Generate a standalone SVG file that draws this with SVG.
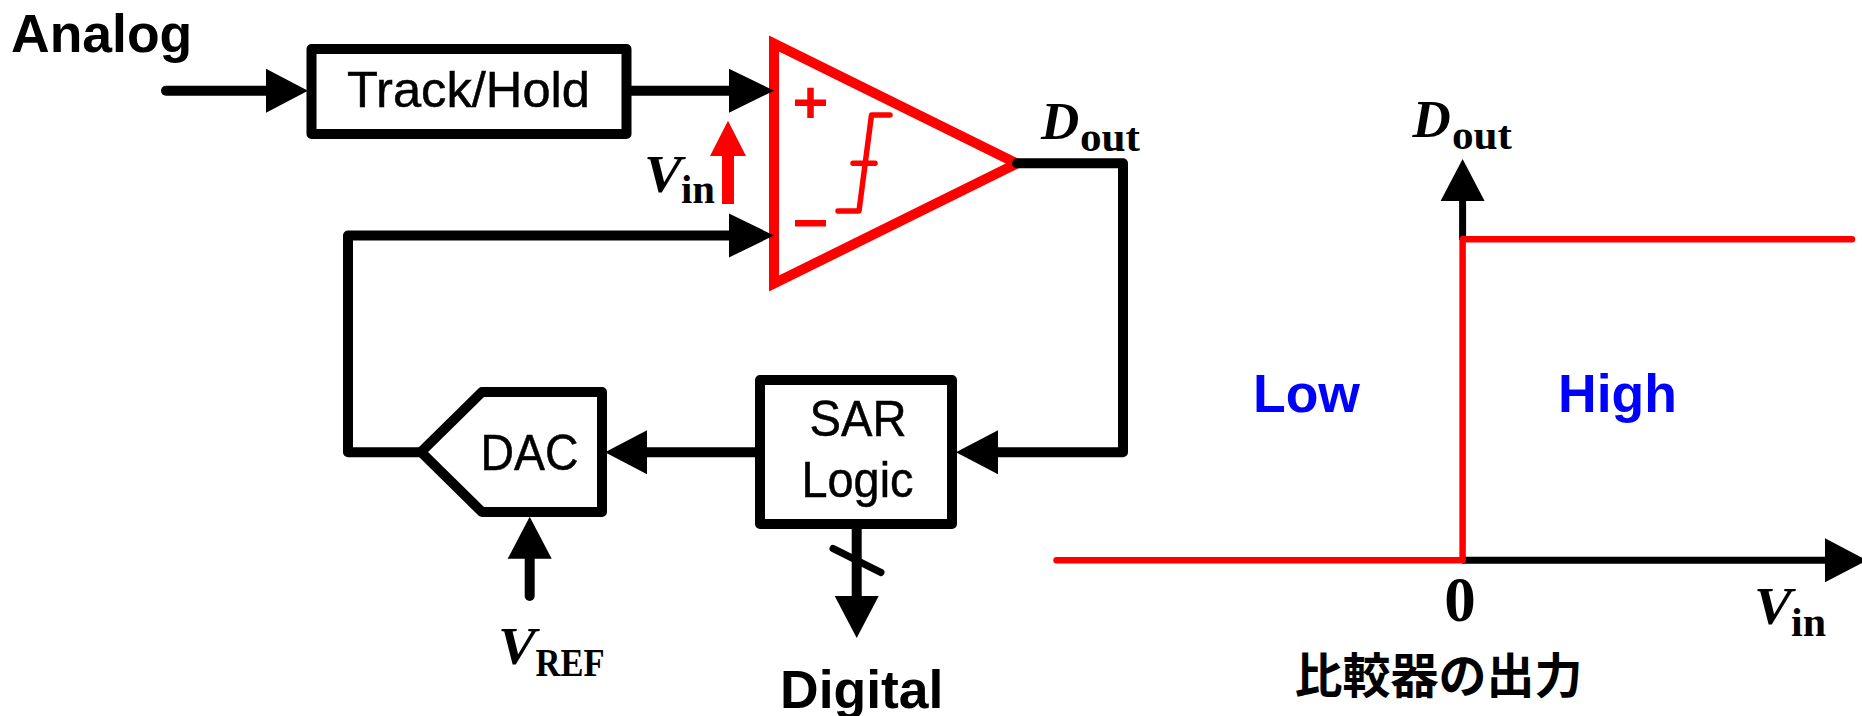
<svg xmlns="http://www.w3.org/2000/svg" width="1862" height="716" viewBox="0 0 1862 716">
<style>
.box{fill:#fff;stroke:#000;stroke-width:10;stroke-linejoin:round}
.wire{fill:none;stroke:#000;stroke-width:10;stroke-linejoin:round;stroke-linecap:round}
.red{fill:none;stroke:#f00;stroke-linejoin:round;stroke-linecap:round}
.sans{font-family:"Liberation Sans",Arial,sans-serif;font-size:50px;fill:#000;stroke:#000;stroke-width:.5}
.bold{font-family:"Liberation Sans",Arial,sans-serif;font-size:53.5px;font-weight:700;fill:#000}
.blue{fill:#00f}
.mi{font-family:"Liberation Serif","Times New Roman",serif;font-size:53px;font-weight:700;font-style:italic;fill:#000}
.sub{font-family:"Liberation Serif","Times New Roman",serif;font-size:41px;font-weight:700;fill:#000}
.m{text-anchor:middle}
</style>
<defs>
<marker id="head" markerUnits="userSpaceOnUse" viewBox="0 0 42 44" refX="0" refY="22" markerWidth="42" markerHeight="44" orient="auto" overflow="visible"><path d="M0 0L42 22L0 44Z" fill="#000"/></marker>
<marker id="headLong" markerUnits="userSpaceOnUse" viewBox="0 0 45 44" refX="0" refY="22" markerWidth="45" markerHeight="44" orient="auto" overflow="visible"><path d="M0 0L45 22L0 44Z" fill="#000"/></marker>
</defs>
<g id="analog-label"><text class="bold" x="11" y="52">Analog</text></g>
<g id="track-hold"><rect class="box" x="311.5" y="49" width="315" height="85"/><text class="sans m" x="468.5" y="107" textLength="243" lengthAdjust="spacingAndGlyphs">Track/Hold</text></g>
<g id="comparator">
<polygon points="774,43.5 774,283.5 1017,163.5" fill="#fff" stroke="#f00" stroke-width="10" stroke-miterlimit="4"/>
<path d="M795 102.7H826M810.5 87.7V118M795 223.3H826" fill="none" stroke="#f00" stroke-width="6.5"/>
<path class="red" stroke-width="5.5" d="M838 211H859L871.5 115H890M853 163.3H875"/>
</g>
<g id="dac"><path class="box" d="M602 392V512H482L421 452L482 392Z"/><text class="sans m" x="529.5" y="469.5" textLength="98" lengthAdjust="spacingAndGlyphs">DAC</text></g>
<g id="sar-logic"><rect class="box" x="760" y="380" width="192" height="144"/><text class="sans m" x="858" y="436" textLength="97" lengthAdjust="spacingAndGlyphs">SAR</text><text class="sans m" x="857.5" y="497" textLength="112" lengthAdjust="spacingAndGlyphs">Logic</text></g>
<g id="connectors">
<path class="wire" d="M166 90.7H266" marker-end="url(#head)"/>
<path class="wire" style="stroke-linecap:butt" d="M626.5 90.7H729" marker-end="url(#headLong)"/>
<path class="wire" style="stroke-linecap:butt" d="M421 452.3H348V235.5H729" marker-end="url(#headLong)"/>
<path class="wire" d="M1017 163.3H1123V452.3H998" marker-end="url(#head)"/>
<path class="wire" style="stroke-linecap:butt" d="M757 452.3H647" marker-end="url(#head)"/>
<path class="wire" d="M529.7 596V558.7" marker-end="url(#head)"/>
<path class="wire" style="stroke-linecap:butt" d="M856.7 524V596" marker-end="url(#head)"/>
<path d="M833 548.5L881 572.5" fill="none" stroke="#000" stroke-width="7" stroke-linecap="round"/>
<path d="M722 204V156H710L728 120.7L746 156H734V204Z" fill="#f00"/>
</g>
<g id="vin-label"><text class="mi" x="644" y="192" textLength="38" lengthAdjust="spacingAndGlyphs">V</text><text class="sub" x="681" y="202.5" textLength="34" lengthAdjust="spacingAndGlyphs">in</text></g>
<g id="dout-label"><text class="mi" x="1041" y="139">D</text><text class="sub" x="1080" y="151" textLength="60" lengthAdjust="spacingAndGlyphs">out</text></g>
<g id="vref-label"><text class="mi" x="498" y="664" textLength="38" lengthAdjust="spacingAndGlyphs">V</text><text class="sub" x="535.5" y="675.5" textLength="69" lengthAdjust="spacingAndGlyphs">REF</text></g>
<g id="digital-label"><text class="bold" x="780" y="708">Digital</text></g>
<g id="chart">
<path d="M1462 560.3H1825" fill="none" stroke="#000" stroke-width="7" marker-end="url(#head)"/>
<path d="M1462.6 240V201" fill="none" stroke="#000" stroke-width="7" marker-end="url(#head)"/>
<path class="red" stroke-width="6.5" d="M1056.5 560.3H1462.6V239.3H1852"/>
<text class="bold blue" x="1253" y="411.5">Low</text>
<text class="bold blue" x="1558" y="411.5">High</text>
<text x="1460" y="621" class="m" style="font-family:'Liberation Serif',serif;font-size:63px;font-weight:700">0</text>
<g id="chart-dout"><text class="mi" x="1412.5" y="137">D</text><text class="sub" x="1452" y="149" textLength="60" lengthAdjust="spacingAndGlyphs">out</text></g>
<g id="chart-vin"><text class="mi" x="1754" y="624" textLength="38" lengthAdjust="spacingAndGlyphs">V</text><text class="sub" x="1791" y="635.5" textLength="35" lengthAdjust="spacingAndGlyphs">in</text></g>
<text x="1438.5" y="693" class="m" style="font-family:'Noto Sans CJK JP','Noto Sans CJK SC',sans-serif;font-size:48px;font-weight:700">比較器の出力</text>
</g>
</svg>
